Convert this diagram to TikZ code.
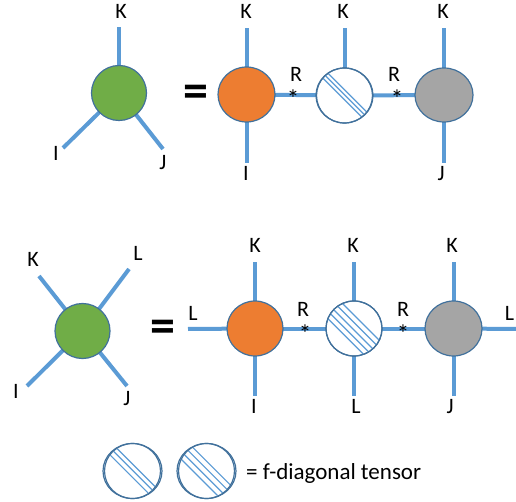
\documentclass[tikz,border=0pt]{standalone}
\usepackage{fontspec}
\setmainfont{Carlito}
\usetikzlibrary{shapes.geometric,backgrounds}

\definecolor{tgreen}{HTML}{70AD47}
\definecolor{torange}{HTML}{ED7D31}
\definecolor{tgray}{HTML}{A5A5A5}
\definecolor{outl}{HTML}{41719C}
\definecolor{edgeblue}{HTML}{5B9BD5}

% diagonal hatching clipped to a tensor node: #1 node name, #2 list of offsets (pt)
\newcommand{\fdhatch}[2]{%
  \begin{scope}
    \clip (#1.center) ellipse [x radius=27.6pt, y radius=26.8pt];
    \foreach \d in {#2}{
      \draw[hatchline] ([shift={(45:\d pt)}]#1.center) ++(135:40pt) -- ++(-45:80pt);
    }
  \end{scope}}

\begin{document}
\begin{tikzpicture}[x=1pt,y=-1pt,
  tensor/.style={ellipse, draw=outl, line width=1.2pt, minimum width=57pt,
    minimum height=55pt, inner sep=0pt},
  leg/.style={draw=edgeblue, line width=4pt},
  hatchline/.style={draw=edgeblue, line width=1.2pt},
  lab/.style={font=\fontsize{22}{22}\selectfont, text height=0.64em,
    text depth=0pt, inner sep=0pt},
  star/.style={font=\fontsize{25}{25}\selectfont, anchor=base, inner sep=0pt},
  eqsign/.style={font=\fontsize{50}{50}\selectfont\bfseries, inner sep=0pt}]
\useasboundingbox (0,0) rectangle (516,502);

% ---------- three-index tensor ----------
\node[tensor, fill=tgreen, minimum width=55pt] (g1) at (119,93) {};
\coordinate (g1k) at (119,27);
\coordinate (g1i) at (63,148);
\coordinate (g1j) at (163,149);
\node[lab] (g1kl) at (121,15) {K};
\node[lab] (g1il) at (56,157) {I};
\node[lab] (g1jl) at (163,166) {J};

\node[eqsign] (eq1) at (196,96) {=};

\node[tensor, fill=torange] (o1) at (246.5,94.5) {};
\coordinate (o1k) at (246.5,28);
\coordinate (o1i) at (246.5,163);
\node[lab] (o1kl) at (246,15) {K};
\node[lab] (o1il) at (246,177) {I};

\node[tensor, fill=white] (h1) at (344.5,95.5) {};
\coordinate (h1k) at (344.5,28);
\node[lab] (h1kl) at (343,15) {K};
\fdhatch{h1}{-3,0.5,4}

\node[tensor, fill=tgray, minimum width=58pt, minimum height=54pt] (gr1) at (444,95) {};
\coordinate (gr1k) at (444,28);
\coordinate (gr1j) at (444,163);
\node[lab] (gr1kl) at (443,15) {K};
\node[lab] (gr1jl) at (441,177) {J};

\node[lab] (r1) at (296,78) {R};
\node[star] (s1) at (293,107.5) {*};
\node[lab] (r2) at (394,78) {R};
\node[star] (s2) at (397,107.5) {*};

% ---------- four-index tensor ----------
\node[tensor, fill=tgreen, minimum width=55pt] (g2) at (82.5,331) {};
\coordinate (g2k) at (39,276);
\coordinate (g2l) at (129,269);
\coordinate (g2i) at (27,386);
\coordinate (g2j) at (127,386);
\node[lab] (g2kl) at (33,263) {K};
\node[lab] (g2ll) at (138,257) {L};
\node[lab] (g2il) at (16,395) {I};
\node[lab] (g2jl) at (127,402) {J};

\node[eqsign] (eq2) at (163,331) {=};

\node[tensor, fill=torange, minimum width=56pt] (o2) at (255,328.5) {};
\coordinate (o2l) at (188,329);
\coordinate (o2k) at (255,262);
\coordinate (o2i) at (255,396);
\node[lab] (o2ll) at (193,317) {L};
\node[lab] (o2kl) at (255,249) {K};
\node[lab] (o2il) at (254,410) {I};

\node[tensor, fill=white, minimum width=56pt] (h2) at (354,328.5) {};
\coordinate (h2k) at (354,262);
\coordinate (h2l) at (354,396);
\node[lab] (h2kl) at (353,249) {K};
\node[lab] (h2ll) at (356,410) {L};
\fdhatch{h2}{-11.5,-6.2,-1,4.3,9.6}

\node[tensor, fill=tgray] (gr2) at (453.5,328.5) {};
\coordinate (gr2k) at (453.5,262);
\coordinate (gr2j) at (453.5,396);
\coordinate (gr2l) at (520,329);
\node[lab] (gr2kl) at (452,249) {K};
\node[lab] (gr2jl) at (450,410) {J};
\node[lab] (gr2ll) at (509.5,317) {L};

\node[lab] (r3) at (303,313) {R};
\node[star] (s3) at (305,342.5) {*};
\node[lab] (r4) at (403,313) {R};
\node[star] (s4) at (403,342.5) {*};

% ---------- legend ----------
\node[tensor, fill=white, minimum width=59pt] (lg1) at (132.5,471) {};
\fdhatch{lg1}{-4.5,0.5,5}
\node[tensor, fill=white, minimum width=59pt] (lg2) at (206.5,471) {};
\fdhatch{lg2}{-9.5,-4,1.5,7}
\node[anchor=west, inner sep=0pt, font=\fontsize{23}{23}\selectfont] (lgt) at (246,473) {= f-diagonal tensor};

% redraw hatched outlines over the clipped hatching
\foreach \n in {h1,h2,lg1,lg2}{
  \draw[outl, line width=1.2pt] (\n.center) ellipse [x radius=28pt, y radius=27.5pt];
}

% ---------- index lines, behind the tensors ----------
\begin{pgfonlayer}{background}
  \draw[leg] (g1.center) -- (g1k);
  \draw[leg] (g1.center) -- (g1i);
  \draw[leg] (g1.center) -- (g1j);
  \draw[leg] (o1.center) -- (o1k);
  \draw[leg] (o1.center) -- (o1i);
  \draw[leg] (o1.center) -- (h1.center);
  \draw[leg] (h1.center) -- (h1k);
  \draw[leg] (h1.center) -- (gr1.center);
  \draw[leg] (gr1.center) -- (gr1k);
  \draw[leg] (gr1.center) -- (gr1j);

  \draw[leg] (g2.center) -- (g2k);
  \draw[leg] (g2.center) -- (g2l);
  \draw[leg] (g2.center) -- (g2i);
  \draw[leg] (g2.center) -- (g2j);
  \draw[leg] (o2.center) -- (o2l);
  \draw[leg] (o2.center) -- (o2k);
  \draw[leg] (o2.center) -- (o2i);
  \draw[leg] (o2.center) -- (h2.center);
  \draw[leg] (h2.center) -- (h2k);
  \draw[leg] (h2.center) -- (h2l);
  \draw[leg] (h2.center) -- (gr2.center);
  \draw[leg] (gr2.center) -- (gr2k);
  \draw[leg] (gr2.center) -- (gr2j);
  \draw[leg] (gr2.center) -- (gr2l);
\end{pgfonlayer}
\end{tikzpicture}
\end{document}
